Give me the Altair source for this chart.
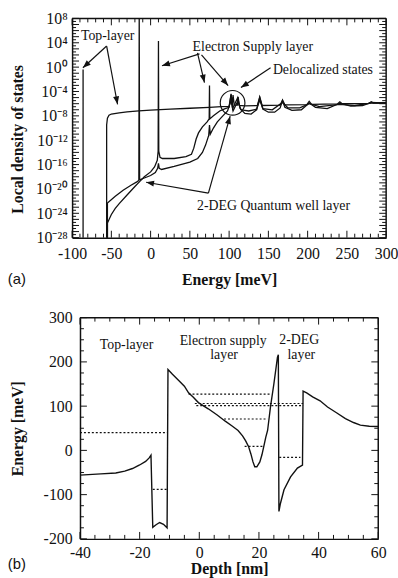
import math
import altair as alt
import pandas as pd

SERIF = "Liberation Serif"
SANS = "Liberation Sans"
INK = "#111111"

# ------------------------------------------------------------------
# (a) local density of states (log10 of value) against energy in meV
# ------------------------------------------------------------------
A_W, A_H = 318, 222
A_E = [-100, 300]
A_P = [-28, 8]

top_e = [-86, -86, -86, -56, -56, -55, -53, -50, -40, -30, -15, 0, 25, 50, 75, 90,
         100, 102.5, 104, 105, 106.5, 110.5, 111.5, 113, 120, 136, 139, 142, 165, 168,
         171, 199, 202, 205, 238, 241, 244, 278, 281, 284, 300]
top_lg = [-30, -0.4, -30, -30, -9.5, -8.4, -7.9, -7.7, -7.5, -7.35, -7.2, -7.05, -6.9,
          -6.75, -6.6, -6.5, -6.45, -4.4, -6.2, -4.6, -6.25, -6.25, -4.9, -6.3, -6.35,
          -6.3, -4.9, -6.3, -6.25, -5.4, -6.2, -6.15, -5.6, -6.1, -6.05, -5.7, -6.0,
          -5.95, -5.7, -5.9, -5.85]

supply_e = [-55, -55, -50, -45, -40, -30, -20, -14, -8, 0, 5, 8.5, 9.6, 10, 10.4, 12,
            15, 30, 45, 52, 55, 58, 61, 66, 72, 74.6, 75, 75.4, 80, 88, 95, 100, 102.5,
            104.5, 111, 114, 120, 128, 135, 139, 143, 150, 158, 165, 168, 171, 180, 192,
            202, 210, 225, 241, 255, 270, 281, 300]
supply_lg = [-30, -25.6, -24.2, -23.2, -22.4, -21.0, -19.6, -18.8, -18.0, -17.2, -16.4,
             -15.3, -13.8, 4.3, -13.8, -14.8, -15.0, -15.0, -14.7, -14.3, -13.3, -11.8,
             -10.8, -9.8, -9.0, -8.5, -3.0, -8.5, -8.0, -7.2, -6.8, -6.6, -4.5, -6.8,
             -5.0, -6.8, -7.6, -7.7, -7.0, -5.0, -6.9, -7.4, -7.4, -6.7, -5.5, -6.6,
             -7.1, -7.0, -5.9, -6.6, -6.8, -5.9, -6.4, -6.3, -5.8, -5.9]

qwell_e = [-55, -55, -45, -35, -25, -17, -15, -14.5, -14, -8, 0, 6, 9, 10, 11, 14, 30,
           50, 60, 66, 70, 74, 75, 76, 80, 85, 92, 98, 102.5, 105, 111, 115, 125, 135,
           139, 143, 155, 168, 175, 190, 202, 215, 241, 260, 281, 300]
qwell_lg = [-30, -22.3, -21.2, -20.2, -19.4, -18.8, -18.6, 9.5, -18.5, -18.2, -17.8,
            -17.3, -16.6, -15.8, -16.6, -16.8, -16.3, -15.6, -15.0, -14.0, -12.8, -11.2,
            -9.5, -11.0, -10.0, -9.0, -8.0, -7.2, -5.5, -7.2, -5.6, -7.0, -7.2, -6.9,
            -5.4, -6.8, -7.0, -5.8, -6.7, -6.7, -6.0, -6.5, -6.1, -6.3, -5.9, -5.9]

a_note_text = ["Top-layer", "Electron Supply layer", "Delocalized states",
               "2-DEG Quantum well layer"]
a_note_e = [-54.7, 130.2, 219.5, 156.6]
a_note_lg = [5.08, 3.30, -0.43, -22.79]

arrow_e1 = [-56.0, -56.0, 62.3, 59.7, 64.8, 152.8, 73.6, 73.6]
arrow_lg1 = [3.46, 3.46, 2.17, 2.33, 2.00, -0.10, -20.69, -20.69]
arrow_e2 = [-86.2, -42.1, 14.5, 68.6, 98.7, 115.1, -5.7, 101.3]
arrow_lg2 = [-0.10, -6.10, 0.22, -2.53, -3.02, -3.35, -18.9, -8.05]

ring_e = [104.4]
ring_lg = [-5.86]

y_label_powers = [8, 4, 0, -4, -8, -12, -16, -20, -24, -28]

# ------------------------------------------------------------------
# (b) conduction band profile against depth in nm
# ------------------------------------------------------------------
B_W, B_H = 310, 224
B_INSET = 8
B_Z = [-40, 60]
B_EN = [-200, 300]

prof_z = [-40, -33, -28, -25, -22.4, -20, -18, -16.8, -16.2, -15.6, -14.5, -13.3, -12,
          -10.8, -10.5, -9, -6.9, -5, -3.6, -2, -0.3, 3, 6, 8.7, 11, 13, 14.5, 15.5,
          16.5, 17.3, 18, 18.6, 19.3, 20.3, 21, 21.5, 22.3, 22.9, 23.9, 25, 26.2, 26.5,
          26.7, 27.2, 28.4, 30.6, 32.9, 34.6, 34.8, 36, 38, 40.5, 43, 46, 49, 51.7, 54,
          57, 60]
prof_en = [-56, -53, -51, -47, -41, -33, -25, -17, -11, -174, -168, -163, -167, -175,
           183, 172, 158, 145, 130, 120, 108, 94, 80, 66, 55, 45, 33, 22, 9, -8, -26,
           -37, -37, -26, -10, 5, 30, 45, 100, 150, 210, 216, -138, -120, -89, -60, -40,
           -33, 134, 130, 121, 112, 98, 85, 72, 63, 57, 54.5, 54]

lvl_z1 = [-40, -15.6, -3.6, -1.5, -1.0, 8.3, 15.2, 26.8]
lvl_z2 = [-10.5, -10.8, 24.0, 34.8, 34.8, 22.9, 21.3, 33.9]
lvl_en = [40, -88, 127, 106, 101, 71, 9, -16]

b_note_text = ["Top-layer", "Electron supply", "layer", "2-DEG", "layer"]
b_note_z = [-24.4, 8.0, 8.3, 33.5, 34.2]
b_note_en = [239, 248, 216, 250, 216]


# ------------------------------------------------------------------
def sup(n):
    table = str.maketrans("0123456789-", "⁰¹²³⁴⁵⁶⁷⁸⁹⁻")
    return str(n).translate(table)


def a_px(e, lg):
    return ((e - A_E[0]) / (A_E[1] - A_E[0]) * A_W,
            (A_P[1] - lg) / (A_P[1] - A_P[0]) * A_H)


label_style = dict(labelFont=SERIF, labelFontSize=16, labelColor=INK,
                   labelOverlap=False, labelFlush=False, titleFont=SERIF,
                   titleFontSize=16, titleFontWeight="bold", titleColor=INK,
                   domainColor=INK, domainWidth=1.5, grid=False, ticks=False,
                   tickSize=0)


def tick_marks(values, scale, axis, channel, start, length):
    """Inward tick marks: positions through the scale, fixed pixel length."""
    df = pd.DataFrame({"t": values})
    rule = alt.Chart(df).mark_rule(color=INK, strokeWidth=1)
    if channel == "x":
        return rule.encode(x=alt.X("t:Q", scale=scale, axis=axis),
                           y=alt.value(start), y2=alt.value(start + length))
    return rule.encode(y=alt.Y("t:Q", scale=scale, axis=axis),
                       x=alt.value(start), x2=alt.value(start + length))


def frame_marks(xdom, ydom, xscale, yscale, xaxis, yaxis):
    """Top and right edges of the plotting box, drawn along the domains."""
    top = pd.DataFrame({"a": [xdom[0]], "b": [xdom[1]], "c": [ydom[1]]})
    right = pd.DataFrame({"a": [ydom[0]], "b": [ydom[1]], "c": [xdom[1]]})
    return [
        alt.Chart(top).mark_rule(color=INK, strokeWidth=1.5).encode(
            x=alt.X("a:Q", scale=xscale, axis=xaxis), x2="b:Q",
            y=alt.Y("c:Q", scale=yscale, axis=yaxis)),
        alt.Chart(right).mark_rule(color=INK, strokeWidth=1.5).encode(
            y=alt.Y("a:Q", scale=yscale, axis=yaxis), y2="b:Q",
            x=alt.X("c:Q", scale=xscale, axis=xaxis)),
    ]


# ---------------------------- panel (a) ----------------------------
xs_a = alt.Scale(domain=A_E, nice=False, zero=False)
ys_a = alt.Scale(type="log", domain=[10.0 ** A_P[0], 10.0 ** A_P[1]], nice=False)

curves = pd.concat([
    pd.DataFrame({"e": es, "v": [10.0 ** d for d in ds], "i": range(len(es)), "s": name})
    for name, es, ds in [("top", top_e, top_lg), ("supply", supply_e, supply_lg),
                         ("qwell", qwell_e, qwell_lg)]
], ignore_index=True)

arrows = pd.DataFrame({
    "e1": arrow_e1, "v1": [10.0 ** d for d in arrow_lg1],
    "e2": arrow_e2, "v2": [10.0 ** d for d in arrow_lg2],
})
angles = []
for e1, l1, e2, l2 in zip(arrow_e1, arrow_lg1, arrow_e2, arrow_lg2):
    x1, y1 = a_px(e1, l1)
    x2, y2 = a_px(e2, l2)
    angles.append(math.degrees(math.atan2(x2 - x1, -(y2 - y1))) % 360)
arrows["ang"] = angles

a_notes = pd.DataFrame({"t": a_note_text, "e": a_note_e,
                        "v": [10.0 ** d for d in a_note_lg]})
ring = pd.DataFrame({"e": ring_e, "v": [10.0 ** d for d in ring_lg]})

k_expr = "round(log(datum.value) / LN10)"
y_label_expr = "''"
for p in reversed(y_label_powers):
    y_label_expr = f"{k_expr} == {p} ? '10{sup(p)}' : ({y_label_expr})"

HEAD = "M0,0L-0.38,1L0.38,1Z"

xa_major = list(range(-100, 301, 50))
xa_minor = [v for v in range(-100, 301, 10) if v % 50]
ya_dec = [10.0 ** k for k in range(A_P[0], A_P[1] + 1)]
ya_half = [10.0 ** (k + 0.5) for k in range(A_P[0], A_P[1])]

AX_A_X = alt.Axis(orient="bottom", values=xa_major, labelExpr="'' + datum.value",
                  labelPadding=8, title="Energy [meV]", titlePadding=10, **label_style)
AX_A_Y = alt.Axis(orient="left", values=[10.0 ** p for p in y_label_powers],
                  labelExpr=y_label_expr, labelPadding=5,
                  title="Local density of states", titlePadding=10, titleY=122,
                  **label_style)

a_lines = alt.Chart(curves).mark_line(color=INK, strokeWidth=1.3, clip=True).encode(
    x=alt.X("e:Q", scale=xs_a, axis=AX_A_X),
    y=alt.Y("v:Q", scale=ys_a, axis=AX_A_Y),
    detail="s:N", order="i:Q")
a_shafts = alt.Chart(arrows).mark_rule(color=INK, strokeWidth=1.2).encode(
    x=alt.X("e1:Q", scale=xs_a, axis=AX_A_X), y=alt.Y("v1:Q", scale=ys_a, axis=AX_A_Y),
    x2="e2:Q", y2="v2:Q")
a_heads = alt.Chart(arrows).mark_point(shape=HEAD, filled=True, size=256, color=INK,
                                       opacity=1).encode(
    x=alt.X("e2:Q", scale=xs_a, axis=AX_A_X), y=alt.Y("v2:Q", scale=ys_a, axis=AX_A_Y),
    angle=alt.Angle("ang:Q", scale=None))
a_ring = alt.Chart(ring).mark_point(shape="circle", filled=False, size=625, color=INK,
                                    strokeWidth=1.2, opacity=1).encode(
    x=alt.X("e:Q", scale=xs_a, axis=AX_A_X), y=alt.Y("v:Q", scale=ys_a, axis=AX_A_Y))
a_text = alt.Chart(a_notes).mark_text(font=SERIF, fontSize=14, color=INK).encode(
    x=alt.X("e:Q", scale=xs_a, axis=AX_A_X), y=alt.Y("v:Q", scale=ys_a, axis=AX_A_Y),
    text="t:N")
a_tag = alt.Chart(pd.DataFrame({"t": ["(a)"]})).mark_text(
    font=SANS, fontSize=15, color=INK, baseline="middle").encode(
    x=alt.value(-56), y=alt.value(264), text="t:N")

a_ticks = [
    tick_marks(xa_major, xs_a, AX_A_X, "x", A_H, -7),
    tick_marks(xa_minor, xs_a, AX_A_X, "x", A_H, -4),
    tick_marks(xa_major, xs_a, AX_A_X, "x", 0, 7),
    tick_marks(xa_minor, xs_a, AX_A_X, "x", 0, 4),
    tick_marks(ya_dec, ys_a, AX_A_Y, "y", 0, 7),
    tick_marks(ya_half, ys_a, AX_A_Y, "y", 0, 4),
    tick_marks(ya_dec, ys_a, AX_A_Y, "y", A_W, -7),
    tick_marks(ya_half, ys_a, AX_A_Y, "y", A_W, -4),
]

panel_a = alt.layer(
    a_lines, a_shafts, a_heads, a_ring, a_text, a_tag, *a_ticks,
    *frame_marks(A_E, [10.0 ** A_P[0], 10.0 ** A_P[1]], xs_a, ys_a, AX_A_X, AX_A_Y)
).properties(width=A_W, height=A_H)

# ---------------------------- panel (b) ----------------------------
xs_b = alt.Scale(domain=B_Z, range=[B_INSET, B_W], nice=False, zero=False)
ys_b = alt.Scale(domain=B_EN, nice=False, zero=False)

profile = pd.DataFrame({"z": prof_z, "en": prof_en, "i": range(len(prof_z))})
levels = pd.DataFrame({"z1": lvl_z1, "z2": lvl_z2, "en": lvl_en})
b_notes = pd.DataFrame({"t": b_note_text, "z": b_note_z, "en": b_note_en})

xb_major = list(range(-40, 61, 20))
xb_minor = [v for v in range(-40, 61, 5) if v % 20]
yb_major = list(range(-200, 301, 100))
yb_minor = [v for v in range(-200, 301, 25) if v % 100]

AX_B_X = alt.Axis(orient="bottom", values=xb_major, labelExpr="'' + datum.value",
                  labelPadding=6, title="Depth [nm]", titlePadding=0, **label_style)
AX_B_Y = alt.Axis(orient="left", offset=-B_INSET, values=yb_major,
                  labelExpr="'' + datum.value", labelPadding=8, title="Energy [meV]",
                  titlePadding=18, **label_style)

b_line = alt.Chart(profile).mark_line(color=INK, strokeWidth=1.4).encode(
    x=alt.X("z:Q", scale=xs_b, axis=AX_B_X),
    y=alt.Y("en:Q", scale=ys_b, axis=AX_B_Y),
    order="i:Q")
b_levels = alt.Chart(levels).mark_rule(color=INK, strokeWidth=1.2,
                                       strokeDash=[2, 2]).encode(
    x=alt.X("z1:Q", scale=xs_b, axis=AX_B_X), x2="z2:Q",
    y=alt.Y("en:Q", scale=ys_b, axis=AX_B_Y))
b_text = alt.Chart(b_notes).mark_text(font=SERIF, fontSize=14, color=INK).encode(
    x=alt.X("z:Q", scale=xs_b, axis=AX_B_X), y=alt.Y("en:Q", scale=ys_b, axis=AX_B_Y),
    text="t:N")
b_tag = alt.Chart(pd.DataFrame({"t": ["(b)"]})).mark_text(
    font=SANS, fontSize=15, color=INK, baseline="middle").encode(
    x=alt.value(-56), y=alt.value(250), text="t:N")

b_ticks = [
    tick_marks(xb_major, xs_b, AX_B_X, "x", B_H, -7),
    tick_marks(xb_minor, xs_b, AX_B_X, "x", B_H, -4),
    tick_marks(xb_major, xs_b, AX_B_X, "x", 0, 7),
    tick_marks(xb_minor, xs_b, AX_B_X, "x", 0, 4),
    tick_marks(yb_major, ys_b, AX_B_Y, "y", B_INSET, 7),
    tick_marks(yb_minor, ys_b, AX_B_Y, "y", B_INSET, 4),
    tick_marks(yb_major, ys_b, AX_B_Y, "y", B_W, -7),
    tick_marks(yb_minor, ys_b, AX_B_Y, "y", B_W, -4),
]

panel_b = alt.layer(
    b_line, b_levels, b_text, b_tag, *b_ticks,
    *frame_marks(B_Z, B_EN, xs_b, ys_b, AX_B_X, AX_B_Y)
).properties(width=B_W, height=B_H)

chart = alt.vconcat(panel_a, panel_b, spacing=23).properties(
    padding={"left": 7, "top": 7, "right": 0, "bottom": 0}
).configure_view(stroke=None)

chart.save("out.html", embed_options={"renderer": "svg", "actions": False})
